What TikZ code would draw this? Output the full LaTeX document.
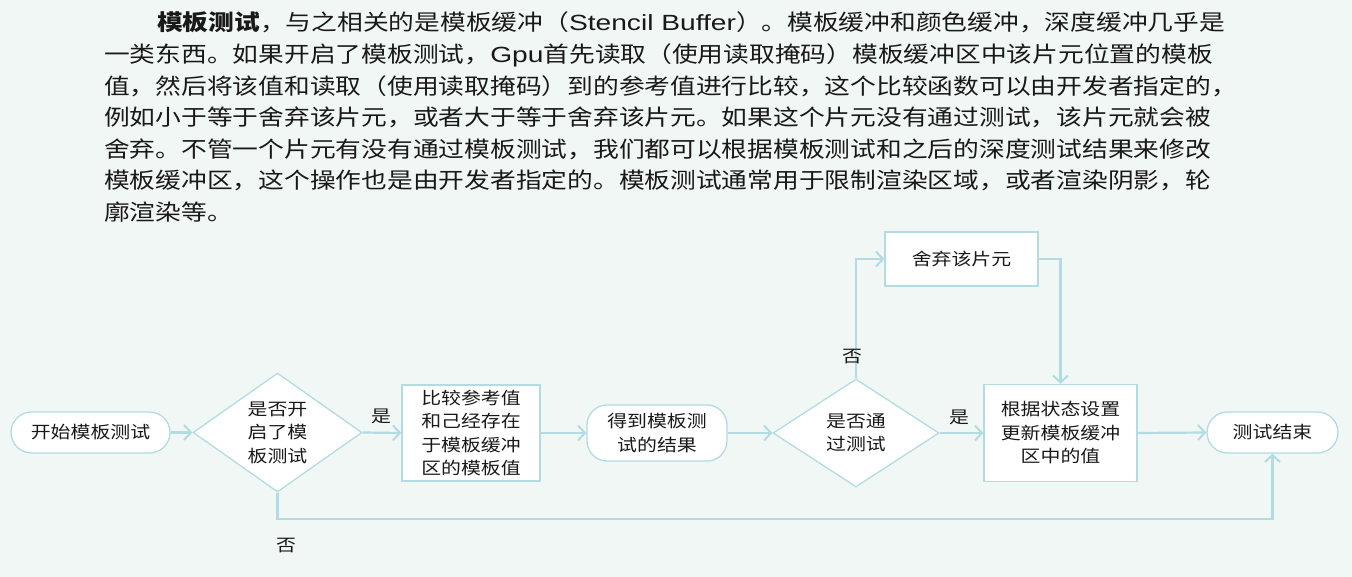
\documentclass[tikz,border=0pt]{standalone}
\usepackage{fontspec}
\usetikzlibrary{arrows.meta,shapes.geometric}
\newfontfamily\cjk{Noto Sans CJK SC}[FakeStretch=1.17]
\newfontfamily\lat{Liberation Sans}[FakeStretch=1.28]
\definecolor{bgc}{RGB}{241,247,245}
\definecolor{lnc}{RGB}{178,220,226}
\definecolor{txc}{RGB}{25,25,25}
\begin{document}
\begin{tikzpicture}[x=1pt,y=-1pt,
  para/.style={anchor=base west,inner sep=0pt,text=txc,font=\cjk\fontsize{22}{26}\selectfont},
  dtext/.style={text=txc,font=\cjk\fontsize{17}{23.5}\selectfont,align=center,inner sep=0pt},
  boxn/.style={draw=lnc,line width=1.3pt,fill=white,rectangle,inner sep=0pt},
  dian/.style={draw=lnc,line width=1.3pt,fill=white,diamond,inner sep=0pt},
  conn/.style={draw=lnc,line width=2.2pt,-{Straight Barb[length=7pt,width=15pt,line width=2pt]}},
  lbl/.style={text=txc,font=\cjk\fontsize{17}{20}\selectfont,inner sep=0pt}]
\fill[bgc] (0,0) rectangle (1352,577);
\useasboundingbox (0,0) rectangle (1352,577);
% paragraph
\node[para] (p1) at (157,31) {\textbf{模板测试}，与之相关的是模板缓冲（{\lat Stencil Buffer}）。模板缓冲和颜色缓冲，深度缓冲几乎是};
\node[para] (p2) at (104,62.6) {一类东西。如果开启了模板测试，{\lat Gpu}首先读取（使用读取掩码）模板缓冲区中该片元位置的模板};
\node[para] (p3) at (104,94.2) {值，然后将该值和读取（使用读取掩码）到的参考值进行比较，这个比较函数可以由开发者指定的，};
\node[para] (p4) at (104,125.8) {例如小于等于舍弃该片元，或者大于等于舍弃该片元。如果这个片元没有通过测试，该片元就会被};
\node[para] (p5) at (104,157.4) {舍弃。不管一个片元有没有通过模板测试，我们都可以根据模板测试和之后的深度测试结果来修改};
\node[para] (p6) at (104,189) {模板缓冲区，这个操作也是由开发者指定的。模板测试通常用于限制渲染区域，或者渲染阴影，轮};
\node[para] (p7) at (104,220.6) {廓渲染等。};
% flow nodes
\node[boxn,minimum width=159pt,minimum height=41pt,rounded corners=20.5pt,dtext] (start) at (90.5,432.5) {开始模板测试};
\node[dian,minimum width=169pt,minimum height=119pt] (d1) at (277.5,432.5) {};
\node[dtext] (d1t) at (d1.center) {是否开\\启了模\\板测试};
\node[boxn,minimum width=138pt,minimum height=96pt,dtext] (b1) at (471,433) {比较参考值\\和己经存在\\于模板缓冲\\区的模板值};
\node[boxn,minimum width=140pt,minimum height=56pt,rounded corners=20pt,dtext] (res) at (657,433) {得到模板测\\试的结果};
\node[dian,minimum width=166pt,minimum height=108pt] (d2) at (856,433) {};
\node[dtext] (d2t) at (d2.center) {是否通\\过测试};
\node[boxn,minimum width=153pt,minimum height=54pt,dtext] (disc) at (961.5,259) {舍弃该片元};
\node[boxn,minimum width=153pt,minimum height=97pt,dtext] (b3) at (1060.5,433) {根据状态设置\\更新模板缓冲\\区中的值};
\node[boxn,minimum width=131pt,minimum height=41pt,rounded corners=20.5pt,dtext] (end) at (1272.5,432.5) {测试结束};
\coordinate (bot) at (1272.5,519);
% connectors
\draw[conn] (start.east) -- (d1.west);
\draw[conn] (d1.east) -- (b1.west);
\draw[conn] (b1.east) -- (res.west);
\draw[conn] (res.east) -- (d2.west);
\draw[conn] (d2.east) -- (b3.west);
\draw[conn] (b3.east) -- (end.west);
\draw[conn] (d2.north) |- (disc.west);
\draw[conn] (disc.east) -| (b3.north);
\draw[conn] (d1.south) |- (bot) -- (end.south);
% labels
\node[lbl] (l1) at (381,416) {是};
\node[lbl] (l2) at (286,546) {否};
\node[lbl] (l3) at (852,357) {否};
\node[lbl] (l4) at (959,417) {是};
\end{tikzpicture}
\end{document}
